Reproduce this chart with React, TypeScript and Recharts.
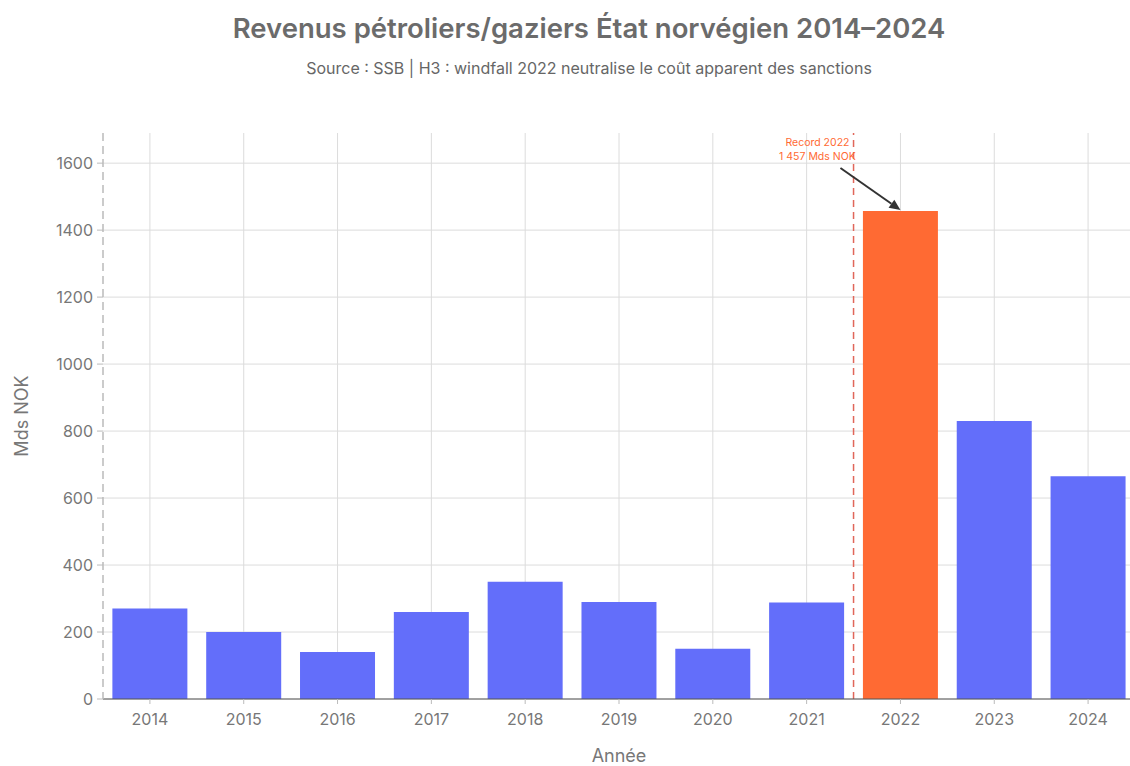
import React from 'react';
import { BarChart, Bar, XAxis, YAxis, CartesianGrid, ReferenceLine, ReferenceDot, Cell } from 'recharts';

const years = ['2014', '2015', '2016', '2017', '2018', '2019', '2020', '2021', '2022', '2023', '2024'];
const revenues = [270, 200, 140, 260, 350, 290, 150, 288, 1457, 830, 665];
const yTicks = [0, 200, 400, 600, 800, 1000, 1200, 1400, 1600];
const highlightYear = '2022';
const recordLabel = ['Record 2022', '1 457 Mds NOK'];

const data = years.map((y, i) => ({ year: y, value: revenues[i] }));

const FONT = 'Inter, "Liberation Sans", sans-serif';
const BLUE = '#636EFA';
const ORANGE = '#FF6A33';

const Annotation = (props: any) => {
  const { cx, cy } = props;
  if (cx == null || cy == null) return null;
  const sx = cx - 60, sy = cy - 43;
  const ex = cx, ey = cy - 1;
  const ang = Math.atan2(ey - sy, ex - sx);
  const L = 11, W = 5;
  const bx = ex - L * Math.cos(ang), by = ey - L * Math.sin(ang);
  const p1 = `${bx + W * Math.sin(ang)},${by - W * Math.cos(ang)}`;
  const p2 = `${bx - W * Math.sin(ang)},${by + W * Math.cos(ang)}`;
  return (
    <g>
      <line x1={sx} y1={sy} x2={bx} y2={by} stroke="#333" strokeWidth={2} />
      <polygon points={`${ex},${ey} ${p1} ${p2}`} fill="#333" />
      <text x={cx - 83} y={cy - 68} textAnchor="middle" dominantBaseline="middle" fontSize={10.5} fill={ORANGE} fontFamily={FONT}>{recordLabel[0]}</text>
      <text x={cx - 83} y={cy - 54} textAnchor="middle" dominantBaseline="middle" fontSize={10.5} fill={ORANGE} fontFamily={FONT}>{recordLabel[1]}</text>
    </g>
  );
};

export default function App() {
  return (
    <div style={{ position: 'absolute', left: 0, top: 0, width: 1130, height: 766, background: '#fff', fontFamily: FONT, overflow: 'hidden' }}>
      <div style={{ position: 'absolute', top: 11, left: 0, width: 1178, textAlign: 'center', fontSize: 27.5, fontWeight: 600, color: '#6b6b6b' }}>
        Revenus pétroliers/gaziers État norvégien 2014–2024
      </div>
      <div style={{ position: 'absolute', top: 58, left: 0, width: 1178, textAlign: 'center', fontSize: 16, color: '#666' }}>
        Source : SSB | H3 : windfall 2022 neutralise le coût apparent des sanctions
      </div>
      <BarChart width={1135} height={766} data={data} margin={{ top: 133, right: 0, left: 0, bottom: 0 }} barCategoryGap="10%">
        <CartesianGrid stroke="#dcdcdc" syncWithTicks />
        <XAxis
          dataKey="year"
          height={67}
          stroke="#555"
          tick={{ fill: '#777', fontSize: 16, fontFamily: FONT }}
          tickLine={{ stroke: '#bbb' }}
          tickSize={5}
          tickMargin={10}
          label={{ value: 'Année', position: 'insideBottom', offset: 4, fill: '#777', fontSize: 18, fontFamily: FONT }}
        />
        <YAxis
          width={103}
          domain={[0, 1690]}
          ticks={yTicks}
          axisLine={{ stroke: '#bbb', strokeDasharray: '8 5', strokeWidth: 1.5 }}
          tickLine={{ stroke: '#bbb' }}
          tickSize={6}
          tickMargin={4}
          tick={{ fill: '#777', fontSize: 16, fontFamily: FONT }}
          label={{ value: 'Mds NOK', angle: -90, position: 'insideLeft', offset: 22, fill: '#777', fontSize: 18, fontFamily: FONT, style: { textAnchor: 'middle' } }}
        />
        <ReferenceLine x={highlightYear} position="start" stroke="#e0665a" strokeDasharray="7 5" strokeWidth={1.5} />
        <Bar dataKey="value" isAnimationActive={false}>
          {data.map((d) => (
            <Cell key={d.year} fill={d.year === highlightYear ? ORANGE : BLUE} />
          ))}
        </Bar>
        <ReferenceDot x={highlightYear} y={revenues[years.indexOf(highlightYear)]} shape={Annotation} />
      </BarChart>
    </div>
  );
}
